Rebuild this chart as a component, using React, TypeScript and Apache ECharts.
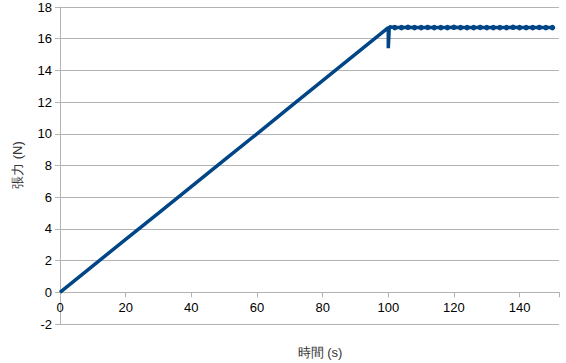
import React, { useEffect, useRef } from "react";
import * as echarts from "echarts";

const rampTime = [0, 10, 20, 30, 40, 50, 60, 70, 80, 90, 100];
const rampTension = [0, 1.67, 3.34, 5.0, 6.67, 8.34, 10.0, 11.68, 13.35, 15.02, 16.7];
const dipTime = [100, 100, 100.3];
const dipTension = [16.7, 15.4, 16.75];
const plateauTime = [102, 104, 106, 108, 110, 112, 114, 116, 118, 120, 122, 124, 126, 128, 130, 132, 134, 136, 138, 140, 142, 144, 146, 148, 150];
const plateauTension = [16.7, 16.7, 16.72, 16.7, 16.7, 16.71, 16.7, 16.7, 16.7, 16.72, 16.7, 16.7, 16.7, 16.71, 16.7, 16.7, 16.7, 16.7, 16.72, 16.7, 16.7, 16.7, 16.71, 16.7, 16.7];
const xTicks = { min: 0, max: 152, interval: 20 };
const yTicks = { min: -2, max: 18, interval: 2 };
const xTitle = "時間 (s)";
const yTitle = "張力 (N)";

export default function App() {
  const ref = useRef<HTMLDivElement>(null);
  useEffect(() => {
    document.body.style.margin = "0";
    const chart = echarts.init(ref.current!, undefined, { renderer: "svg" });
    const pts: [number, number][] = [];
    rampTime.forEach((t, i) => pts.push([t, rampTension[i]]));
    dipTime.forEach((t, i) => pts.push([t, dipTension[i]]));
    plateauTime.forEach((t, i) => pts.push([t, plateauTension[i]]));
    const font = "'Liberation Sans', Arial, sans-serif";
    const top = 7;
    const bottom = 39;
    const plotH = 363 - top - bottom;
    const zeroOffset = -(plotH * (0 - yTicks.min)) / (yTicks.max - yTicks.min);
    chart.setOption({
      animation: false,
      grid: { left: 60, right: 7, top, bottom, containLabel: false },
      xAxis: {
        type: "value",
        min: xTicks.min,
        max: xTicks.max,
        interval: xTicks.interval,
        position: "bottom",
        offset: zeroOffset,
        axisLine: { onZero: false, lineStyle: { color: "#b3b3b3", width: 1 } },
        axisTick: { show: true, length: 5, lineStyle: { color: "#b3b3b3" } },
        splitLine: { show: false },
        axisLabel: {
          color: "#000",
          fontSize: 13,
          fontFamily: font,
          margin: 9,
          formatter: (v: number) => (v % 20 === 0 ? String(v) : ""),
        },
      },
      yAxis: {
        type: "value",
        min: yTicks.min,
        max: yTicks.max,
        interval: yTicks.interval,
        axisLine: { show: true, onZero: false, lineStyle: { color: "#b3b3b3", width: 1 } },
        axisTick: { show: true, length: 5, lineStyle: { color: "#b3b3b3" } },
        splitLine: { show: true, lineStyle: { color: "#b3b3b3", width: 1 } },
        axisLabel: { color: "#000", fontSize: 13, fontFamily: font, margin: 8 },
      },
      graphic: [
        {
          type: "text",
          x: 320,
          y: 352,
          style: {
            text: xTitle,
            fill: "#333",
            font: `13px ${font}`,
            textAlign: "center",
            textVerticalAlign: "middle",
          },
        },
        {
          type: "text",
          x: 17,
          y: 165,
          rotation: Math.PI / 2,
          style: {
            text: yTitle,
            fill: "#333",
            font: `13px ${font}`,
            textAlign: "center",
            textVerticalAlign: "middle",
          },
        },
      ],
      series: [
        {
          type: "line",
          data: pts,
          showSymbol: true,
          symbol: "circle",
          symbolSize: (v: number[]) => (v[0] > 100.5 ? 5.5 : 0),
          lineStyle: { color: "#004586", width: 3.5 },
          itemStyle: { color: "#004586" },
          clip: false,
        },
      ],
    });
    return () => chart.dispose();
  }, []);
  return <div ref={ref} style={{ width: 566, height: 363 }} />;
}
